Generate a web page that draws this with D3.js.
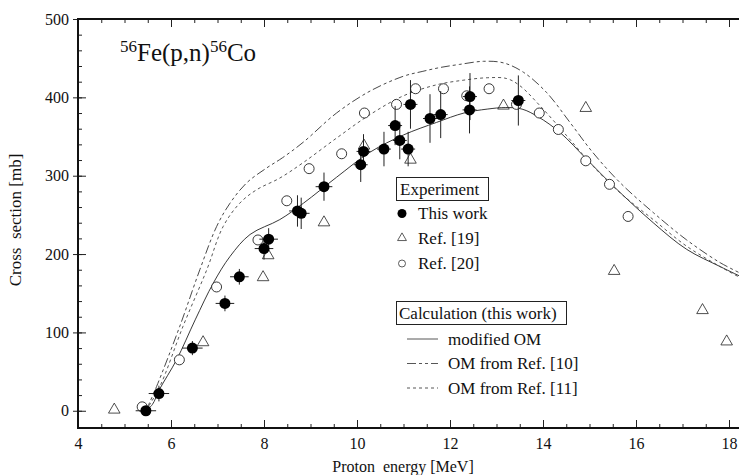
<!DOCTYPE html>
<html>
<head>
<meta charset="utf-8">
<script src="https://cdn.jsdelivr.net/npm/d3@7"></script>
<style>
body { margin: 0; background: #fff; }
svg { display: block; }
text { font-family: "Liberation Serif", "DejaVu Serif", serif; fill: #111; }
</style>
</head>
<body>
<svg width="739" height="475"></svg>
<script>
// This work (filled circles with error bars)
var workE   = [5.46, 5.74, 6.46, 7.16, 7.47, 8.00, 8.10, 8.72, 8.80, 9.29, 10.08, 10.14, 10.58, 10.82, 10.92, 11.10, 11.15, 11.57, 11.80, 12.42, 12.43, 13.47];
var workSig = [0, 22, 80, 137, 171, 207, 219, 255, 252, 286, 314, 331, 334, 364, 345, 334, 391, 373, 378, 384, 401, 396];
var workdE  = [0.22, 0.22, 0.22, 0.2, 0.2, 0.2, 0.2, 0.18, 0.18, 0.18, 0.15, 0.15, 0.15, 0.15, 0.15, 0.15, 0.15, 0.15, 0.15, 0.15, 0.15, 0.15];
var workdSig = [4, 10, 9, 10, 10, 14, 14, 20, 20, 18, 22, 22, 22, 25, 24, 22, 31, 31, 30, 30, 30, 32];

// Ref. [19] (triangles)
var ref19E   = [4.78, 6.69, 7.98, 8.09, 9.29, 10.15, 11.15, 13.15, 14.92, 15.53, 17.43, 17.95];
var ref19Sig = [0, 86, 169, 197, 239, 337, 319, 388, 385, 177, 127, 87];

// Ref. [20] (open circles)
var ref20E   = [5.38, 6.18, 6.98, 7.87, 8.49, 8.97, 9.67, 10.16, 10.85, 11.26, 11.86, 12.36, 12.84, 13.43, 13.92, 14.33, 14.92, 15.43, 15.83];
var ref20Sig = [5, 65, 158, 218, 268, 309, 328, 380, 391, 411, 411, 402, 411, 391, 380, 359, 319, 289, 248];

// calculations
var omModE   = [5.46, 5.6, 5.75, 6.12, 6.52, 6.91, 7.27, 7.7, 8.34, 8.85, 9.56, 10.28, 11.0, 11.71, 12.3, 12.8, 13.2, 13.55, 13.9, 14.37, 14.94, 15.51, 16.37, 17.09, 17.81, 18.3];
var omModSig = [0, 8, 27, 65, 116, 163, 197, 225, 244, 265, 298, 330, 352, 368, 380, 385, 387, 385, 375, 355, 321, 287, 240, 206, 184, 170];

var om10E   = [5.46, 5.69, 6.19, 6.62, 6.98, 7.27, 7.63, 8.06, 8.4, 8.85, 9.56, 10.28, 11.0, 11.4, 11.78, 12.2, 12.72, 13.15, 13.58, 14.08, 14.58, 15.08, 15.66, 16.37, 17.09, 17.81, 18.3];
var om10Sig = [0, 31, 108, 180, 235, 265, 291, 310, 323, 343, 380, 408, 427, 433, 438, 442, 446, 444, 432, 406, 368, 329, 291, 253, 218, 189, 174];

var om11E   = [5.46, 5.76, 6.26, 6.77, 7.12, 7.48, 7.84, 8.34, 8.85, 9.56, 10.28, 11.0, 11.71, 12.3, 12.8, 13.22, 13.5, 13.94, 14.51, 15.08, 15.66, 16.37, 17.09, 17.81, 18.3];
var om11Sig = [0, 31, 108, 180, 235, 265, 282, 297, 317, 348, 378, 402, 416, 422, 425, 424, 415, 389, 351, 312, 278, 244, 210, 184, 168];

var xTicks = [4, 6, 8, 10, 12, 14, 16, 18];
var yTicks = [0, 100, 200, 300, 400, 500];

var svg = d3.select("svg");

var x = d3.scaleLinear().domain([4, 18]).range([78, 729]);
var y = d3.scaleLinear().domain([-22, 500]).range([428, 19]);

var x0 = x(4), x1 = 760, yb = y(-22), yt = y(500);

// minor ticks
var xMinor = d3.range(4, 18.6, 0.5);
var yMinor = d3.range(0, 501, 20);

svg.append("g").attr("transform", "translate(0," + yb + ")")
    .call(d3.axisBottom(x).tickValues(xMinor).tickSize(-4).tickFormat(""))
    .call(function(g){ g.select(".domain").remove(); });
svg.append("g").attr("transform", "translate(0," + yt + ")")
    .call(d3.axisTop(x).tickValues(xMinor).tickSize(-4).tickFormat(""))
    .call(function(g){ g.select(".domain").remove(); });
svg.append("g").attr("transform", "translate(" + x0 + ",0)")
    .call(d3.axisLeft(y).tickValues(yMinor).tickSize(-4).tickFormat(""))
    .call(function(g){ g.select(".domain").remove(); });

// major ticks
var gx = svg.append("g").attr("transform", "translate(0," + yb + ")")
    .call(d3.axisBottom(x).tickValues(xTicks).tickSize(-8).tickPadding(10).tickFormat(d3.format("d")));
gx.select(".domain").remove();
gx.selectAll("text").attr("font-size", "16px").attr("font-family", "Liberation Serif");
svg.append("g").attr("transform", "translate(0," + yt + ")")
    .call(d3.axisTop(x).tickValues(xTicks).tickSize(-8).tickFormat(""))
    .call(function(g){ g.select(".domain").remove(); });

var gy = svg.append("g").attr("transform", "translate(" + x0 + ",0)")
    .call(d3.axisLeft(y).tickValues(yTicks).tickSize(5).tickPadding(4).tickFormat(d3.format("d")));
gy.select(".domain").remove();
gy.selectAll(".tick line").attr("x1", 8);
gy.selectAll("text").attr("font-size", "16px").attr("font-family", "Liberation Serif");

svg.selectAll(".tick line").attr("stroke", "#222");

// frame
svg.append("rect")
    .attr("x", x0).attr("y", yt)
    .attr("width", x1 - x0).attr("height", yb - yt)
    .attr("fill", "none").attr("stroke", "#111").attr("stroke-width", 2);

// axis titles
svg.append("text")
    .attr("x", 403).attr("y", 472)
    .attr("text-anchor", "middle")
    .attr("font-size", "16px")
    .text("Proton  energy [MeV]")
    .style("white-space", "pre");

svg.append("text")
    .attr("transform", "translate(21,220) rotate(-90)")
    .attr("text-anchor", "middle")
    .attr("font-size", "17px")
    .text("Cross  section [mb]")
    .style("white-space", "pre");

// title
var title = svg.append("text").attr("x", 120).attr("y", 61)
    .attr("font-size", "25px").attr("font-family", "Liberation Serif");
title.append("tspan").attr("font-size", "17px").attr("dy", -9).text("56");
title.append("tspan").attr("dy", 9).text("Fe(p,n)");
title.append("tspan").attr("font-size", "17px").attr("dy", -9).text("56");
title.append("tspan").attr("dy", 9).text("Co");

// curves
function curvePts(es, ss){ return es.map(function(e, i){ return [e, ss[i]]; }); }
var line = d3.line()
    .x(function(d){ return x(d[0]); })
    .y(function(d){ return y(d[1]); })
    .curve(d3.curveCatmullRom.alpha(0.5));

var clip = svg.append("clipPath").attr("id", "plotclip")
    .append("rect").attr("x", x0).attr("y", yt).attr("width", x1 - x0).attr("height", yb - yt);

var curves = [
    {pts: curvePts(omModE, omModSig), dash: null, color: "#222", w: 0.9},
    {pts: curvePts(om10E, om10Sig), dash: "9,3,3,3,3,3", color: "#333", w: 0.9},
    {pts: curvePts(om11E, om11Sig), dash: "3,3", color: "#444", w: 0.9}
];
svg.append("g").attr("clip-path", "url(#plotclip)")
    .selectAll("path").data(curves).enter().append("path")
    .attr("d", function(d){ return line(d.pts); })
    .attr("fill", "none")
    .attr("stroke", function(d){ return d.color; })
    .attr("stroke-width", function(d){ return d.w; })
    .attr("stroke-dasharray", function(d){ return d.dash; });

// Ref. [20] open circles
svg.append("g").selectAll("circle").data(ref20E).enter().append("circle")
    .attr("cx", function(d){ return x(d); })
    .attr("cy", function(d, i){ return y(ref20Sig[i]); })
    .attr("r", 5)
    .attr("fill", "#fff")
    .attr("stroke", "#222").attr("stroke-width", 0.9);

// Ref. [19] triangles
var tri = d3.symbol().type(d3.symbolTriangle).size(58);
svg.append("g").selectAll("path").data(ref19E).enter().append("path")
    .attr("d", tri)
    .attr("transform", function(d, i){ return "translate(" + x(d) + "," + (y(ref19Sig[i]) - 1) + ")"; })
    .attr("fill", "none")
    .attr("stroke", "#222").attr("stroke-width", 0.8);

// This work: error bars + filled circles
var work = workE.map(function(e, i){ return {e: e, s: workSig[i], de: workdE[i], ds: workdSig[i]}; });
var gw = svg.append("g");
gw.selectAll("line.v").data(work).enter().append("line")
    .attr("class", "v")
    .attr("x1", function(d){ return x(d.e); }).attr("x2", function(d){ return x(d.e); })
    .attr("y1", function(d){ return y(d.s - d.ds); }).attr("y2", function(d){ return y(d.s + d.ds); })
    .attr("stroke", "#222").attr("stroke-width", 1);
gw.selectAll("line.h").data(work).enter().append("line")
    .attr("class", "h")
    .attr("x1", function(d){ return x(d.e - d.de); }).attr("x2", function(d){ return x(d.e + d.de); })
    .attr("y1", function(d){ return y(d.s); }).attr("y2", function(d){ return y(d.s); })
    .attr("stroke", "#222").attr("stroke-width", 1);
gw.selectAll("circle").data(work).enter().append("circle")
    .attr("cx", function(d){ return x(d.e); })
    .attr("cy", function(d){ return y(d.s); })
    .attr("r", 5.5)
    .attr("fill", "#000");

// legend
var lg = svg.append("g");
lg.append("rect").attr("x", 396.5).attr("y", 177.5).attr("width", 92).attr("height", 23)
    .attr("fill", "#fff").attr("stroke", "#222").attr("stroke-width", 1);
lg.append("text").attr("x", 400).attr("y", 195).attr("font-size", "17px").text("Experiment");

lg.append("circle").attr("cx", 402).attr("cy", 213.5).attr("r", 4.5).attr("fill", "#000");
lg.append("text").attr("x", 418).attr("y", 219).attr("font-size", "17px").text("This work");
lg.append("path").attr("d", d3.symbol().type(d3.symbolTriangle).size(34))
    .attr("transform", "translate(402,238)").attr("fill", "none").attr("stroke", "#333").attr("stroke-width", 0.8);
lg.append("text").attr("x", 418).attr("y", 244).attr("font-size", "17px").text("Ref. [19]");
lg.append("circle").attr("cx", 402).attr("cy", 263.5).attr("r", 3.5).attr("fill", "#fff")
    .attr("stroke", "#333").attr("stroke-width", 0.8);
lg.append("text").attr("x", 418).attr("y", 269).attr("font-size", "17px").text("Ref. [20]");

lg.append("rect").attr("x", 396.5).attr("y", 301.5).attr("width", 170).attr("height", 23)
    .attr("fill", "#fff").attr("stroke", "#222").attr("stroke-width", 1);
lg.append("text").attr("x", 399).attr("y", 319).attr("font-size", "17px").text("Calculation (this work)");

var legLines = [
    {label: "modified OM", dash: null},
    {label: "OM from Ref. [10]", dash: "9,3,3,3,3,3"},
    {label: "OM from Ref. [11]", dash: "3,3"}
];
legLines.forEach(function(d, i){
    var yy = 339 + i * 24.5;
    lg.append("line").attr("x1", 407).attr("x2", 438).attr("y1", yy).attr("y2", yy)
        .attr("stroke", "#444").attr("stroke-width", 0.9).attr("stroke-dasharray", d.dash);
    lg.append("text").attr("x", 448).attr("y", yy + 5.5).attr("font-size", "17px").text(d.label);
});
</script>
</body>
</html>
